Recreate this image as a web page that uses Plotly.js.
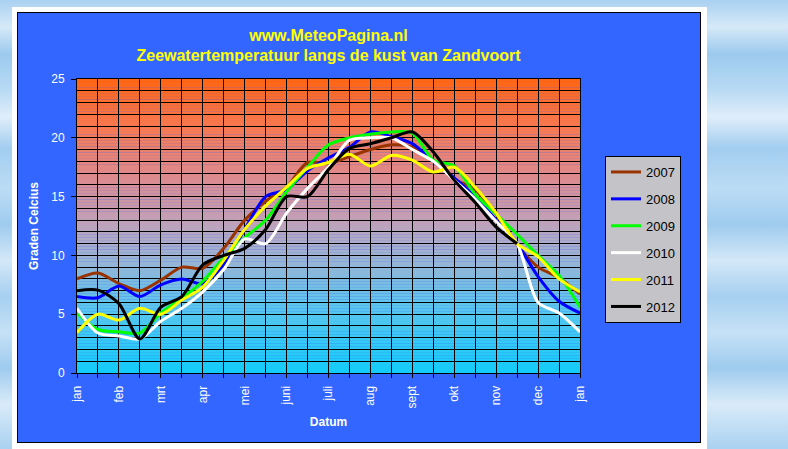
<!DOCTYPE html>
<html>
<head>
<meta charset="utf-8">
<script src="https://cdn.plot.ly/plotly-3.0.1.min.js"></script>
<style>
  html, body { margin: 0; padding: 0; width: 788px; height: 449px; overflow: hidden; }
  body {
    background: linear-gradient(180deg, #a9d1f1 0%, #d6e9f8 6%, #9ccaee 12%, #b8daf4 20%, #e0eefa 26%, #a2cdef 33%,
      #bcdcf5 42%, #9fcbee 50%, #d3e8f8 58%, #a6cff0 66%, #c6e1f6 74%, #9ecbee 82%, #d9ebf9 90%, #a9d1f1 100%);
    font-family: "Liberation Sans", Arial, sans-serif;
  }
  #frame { position: absolute; left: 12px; top: 7px; width: 695px; height: 442px; background: #ffffff; }
  #box { position: absolute; left: 17px; top: 12px; width: 682px; height: 429px; background: #3366ff; border: 1px solid #000; }
  #chart { position: absolute; left: 0; top: 0; width: 788px; height: 449px; }
</style>
</head>
<body>
<div id="frame"></div>
<div id="box"></div>
<div id="chart"></div>
<script>
// maand-positie (0 = 1 jan, 0.5 = half jan, ..., 12 = 1 jan volgend jaar)
var maand = [0, 0.5, 1, 1.5, 2, 2.5, 3, 3.5, 4, 4.5, 5, 5.5, 6, 6.5, 7, 7.5, 8, 8.5, 9, 9.5, 10, 10.5, 11, 11.5, 12];
var maandLabels = ["jan", "feb", "mrt", "apr", "mei", "juni", "juli", "aug", "sept", "okt", "nov", "dec", "jan"];
var jaren = ["2007", "2008", "2009", "2010", "2011", "2012"];

var t2007 = [8.0, 8.5, 7.6, 7.0, 7.9, 9.0, 8.9, 10.6, 13.0, 14.6, 15.8, 17.9, 17.8, 18.4, 19.0, 19.4, 19.2, 18.1, 16.5, 15.6, 13.5, 10.9, 9.0, 8.1, 6.7];
var t2008 = [6.5, 6.4, 7.4, 6.5, 7.5, 8.0, 7.6, 9.2, 12.2, 15.0, 15.6, 17.2, 18.3, 19.2, 20.5, 20.1, 19.5, 18.0, 16.6, 15.0, 13.0, 11.0, 8.2, 6.1, 5.1];
var t2009 = [5.1, 3.7, 3.5, 3.4, 5.1, 6.35, 7.8, 9.8, 11.5, 13.0, 15.4, 17.5, 19.4, 20.0, 20.3, 20.5, 20.4, 18.1, 17.6, 15.2, 13.5, 11.8, 10.0, 8.3, 5.6];
var t2010 = [5.5, 3.4, 3.15, 2.9, 4.4, 5.5, 6.9, 8.8, 11.4, 11.0, 13.6, 15.7, 17.5, 19.8, 20.0, 20.0, 19.0, 18.0, 16.4, 14.8, 12.9, 11.0, 6.0, 5.1, 3.5];
var t2011 = [3.45, 5.0, 4.5, 5.5, 5.0, 6.2, 7.3, 9.6, 12.2, 14.2, 15.8, 17.4, 17.9, 18.6, 17.6, 18.5, 18.1, 17.1, 17.5, 15.8, 13.6, 11.0, 9.9, 8.0, 6.9];
var t2012 = [7.0, 7.05, 5.9, 2.9, 5.6, 6.5, 9.2, 10.0, 10.6, 12.2, 15.0, 15.0, 17.3, 19.1, 19.5, 20.0, 20.5, 18.8, 16.4, 14.5, 12.4, 11.0];

var reeksen = [t2007, t2008, t2009, t2010, t2011, t2012];
var kleuren = ["#993300", "#0000ff", "#00ff00", "#ffffff", "#ffff00", "#000000"];

var font = "Liberation Sans, Arial, sans-serif";

var traces = reeksen.map(function(vals, i) {
  return {
    type: "scatter",
    mode: "lines",
    name: jaren[i],
    legendgroup: jaren[i],
    x: maand.slice(0, vals.length),
    y: vals,
    line: { color: kleuren[i], width: 3, shape: "spline", smoothing: 0.8 },
    hoverinfo: "x+y+name"
  };
});

// achtergrond: verloop oranje (boven) naar cyaan (onder)
var stops = [
  [0, [18, 204, 250]], [3, [58, 200, 244]], [6, [96, 196, 236]], [10, [160, 178, 210]],
  [13, [194, 160, 184]], [17, [224, 136, 138]], [21, [246, 120, 80]], [25, [255, 100, 20]]
];
function kleurBij(v) {
  for (var i = 0; i < stops.length - 1; i++) {
    var a = stops[i], b = stops[i + 1];
    if (v >= a[0] && v <= b[0]) {
      var f = (v - a[0]) / (b[0] - a[0]);
      var c = a[1].map(function(ch, k) { return Math.round(ch + (b[1][k] - ch) * f); });
      return "rgb(" + c.join(",") + ")";
    }
  }
  return "rgb(255,100,20)";
}
var shapes = [];
for (var s = 0; s < 100; s++) {
  var y0 = s * 0.25, y1 = y0 + 0.25;
  shapes.push({
    type: "rect", xref: "paper", yref: "y", x0: 0, x1: 1, y0: y0, y1: y1 + 0.01,
    fillcolor: kleurBij((y0 + y1) / 2), line: { width: 0 }, layer: "below"
  });
}

var layout = {
  width: 788,
  height: 449,
  margin: { l: 77, r: 208, t: 79, b: 76 },
  paper_bgcolor: "rgba(0,0,0,0)",
  plot_bgcolor: "rgba(0,0,0,0)",
  font: { family: font, size: 12, color: "#ffffff" },
  title: {
    text: "www.MeteoPagina.nl<br>Zeewatertemperatuur langs de kust van Zandvoort",
    font: { family: font, size: 16, color: "#ffff00", weight: "bold" },
    x: 0.5, xref: "paper", xanchor: "center",
    y: 1 - 40.5 / 449, yref: "container", yanchor: "middle"
  },
  xaxis: {
    range: [0, 12],
    tickmode: "array",
    tickvals: maandLabels.map(function(l, i) { return i; }),
    ticktext: maandLabels,
    tickangle: -90,
    ticks: "outside", ticklen: 4, tickcolor: "#000000", tickwidth: 1,
    ticklabelstandoff: 3,
    tickfont: { family: font, size: 12, color: "#ffffff" },
    showgrid: true, gridcolor: "#000000", gridwidth: 1,
    minor: { tickmode: "linear", tick0: 0, dtick: 0.5, ticks: "outside", ticklen: 4, tickcolor: "#000000", showgrid: true, gridcolor: "#000000", gridwidth: 1 },
    showline: true, linecolor: "#000000", linewidth: 1, mirror: true,
    zeroline: false, fixedrange: true,
    title: { text: "Datum", font: { family: font, size: 12, color: "#ffffff", weight: "bold" }, standoff: 10 }
  },
  yaxis: {
    range: [0, 25],
    tickmode: "linear", tick0: 0, dtick: 5,
    ticks: "outside", ticklen: 5, tickcolor: "#000000", tickwidth: 1,
    ticklabelstandoff: 4,
    tickfont: { family: font, size: 12, color: "#ffffff" },
    showgrid: true, gridcolor: "#000000", gridwidth: 1,
    minor: { tickmode: "linear", tick0: 0, dtick: 1, ticks: "", showgrid: true, gridcolor: "#000000", gridwidth: 1 },
    showline: true, linecolor: "#000000", linewidth: 1, mirror: true,
    zeroline: false, fixedrange: true,
    title: { text: "Graden Celcius", font: { family: font, size: 12, color: "#ffffff", weight: "bold" }, standoff: 10 }
  },
  showlegend: true,
  legend: {
    x: (605 - 77) / 503, y: (373 - 156) / 294, xanchor: "left", yanchor: "top",
    bgcolor: "#c3c3c8", bordercolor: "#000000", borderwidth: 1,
    font: { family: font, size: 13, color: "#000000" },
    tracegroupgap: 7,
    itemclick: false, itemdoubleclick: false
  },
  shapes: shapes
};

Plotly.newPlot("chart", traces, layout, { displayModeBar: false, staticPlot: false });
</script>
</body>
</html>
